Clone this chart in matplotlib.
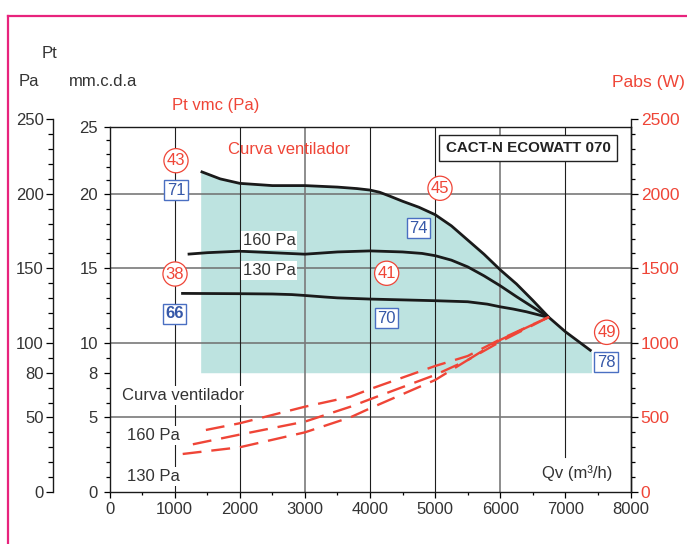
import matplotlib
matplotlib.use("Agg")
import matplotlib.pyplot as plt
from matplotlib.lines import Line2D

plt.rcParams['font.family'] = ['Liberation Sans', 'DejaVu Sans']

# ---------------- data ----------------
# fan pressure curves (x: Qv m3/h, y: mm.c.d.a)
fan_x = [1400, 1700, 2000, 2500, 3000, 3500, 3800, 4000, 4150, 4300, 4500, 4750, 5000, 5250, 5500, 5750, 6000, 6250, 6500, 6750, 7000, 7200, 7400]
fan_y = [21.5, 21.0, 20.7, 20.55, 20.55, 20.45, 20.35, 20.25, 20.1, 19.85, 19.5, 19.1, 18.6, 17.85, 16.9, 15.95, 14.9, 13.95, 12.85, 11.7, 10.75, 10.1, 9.45]

p160_x = [1200, 1500, 2000, 2500, 3000, 3500, 4000, 4500, 4800, 5000, 5250, 5500, 5750, 6000, 6250, 6500, 6750]
p160_y = [15.95, 16.05, 16.15, 16.05, 15.95, 16.1, 16.17, 16.1, 16.0, 15.85, 15.55, 15.1, 14.5, 13.83, 13.1, 12.4, 11.7]

p130_x = [1100, 2000, 2500, 2800, 3000, 3300, 3500, 4000, 5000, 5500, 5800, 6000, 6200, 6400, 6750]
p130_y = [13.32, 13.3, 13.28, 13.24, 13.18, 13.08, 13.02, 12.94, 12.83, 12.76, 12.6, 12.42, 12.27, 12.09, 11.7]

# absorbed power curves (W)
wfan_x = [1480, 2000, 3000, 3700, 4000, 5000, 5500, 6000, 6750]
wfan_y = [416, 461, 572, 639, 690, 845, 912, 1024, 1174]

w160_x = [1280, 2000, 3000, 3700, 4000, 5000, 5500, 6000, 6750]
w160_y = [320, 385, 472, 572, 622, 785, 885, 1020, 1174]

w130_x = [1124, 2000, 3000, 3700, 4000, 5000, 5500, 6000, 6750]
w130_y = [255, 300, 400, 501, 561, 751, 885, 1008, 1174]

fill_floor = 8  # mm.c.d.a

# axis ticks
x_ticks = [0, 1000, 2000, 3000, 4000, 5000, 6000, 7000, 8000]
x_labels = ['0', '1000', '2000', '3000', '4000', '5000', '6000', '7000', '8000']
mm_labels = ['0', '5', '8', '10', '15', '20', '25']
pa_ticks = [0, 50, 80, 100, 150, 200, 250]
w_ticks = [0, 500, 1000, 1500, 2000, 2500]

# annotations
circles = [('43', 1021, 22.22), ('45', 5075, 20.37), ('38', 1006, 14.62),
           ('41', 4256, 14.67), ('49', 7634, 10.71)]
boxes = [('71', 1021, 20.25, 'normal'), ('74', 4742, 17.69, 'normal'),
         ('66', 995, 11.94, 'bold'), ('70', 4256, 11.65, 'normal'),
         ('78', 7624, 8.70, 'normal')]

# ---------------- styling ----------------
RED = '#ef4537'
BLUE = '#3658a8'
BLUE_EDGE = '#4a6fc2'
TEAL = '#bde3e0'
TXT = '#333333'
PINK = '#e8237d'

W, H = 687, 544
fig = plt.figure(figsize=(W / 100, H / 100), dpi=100)


def rect(l, t, r, b):
    return [l / W, 1 - b / H, (r - l) / W, (b - t) / H]


def fpx(x, y):
    return (x / W, 1 - y / H)


# pink frame
fig.add_artist(Line2D([8 / W, 1.0], [1 - 15.7 / H, 1 - 15.7 / H], transform=fig.transFigure,
                      color=PINK, lw=1.6))
fig.add_artist(Line2D([8 / W, 8 / W], [0, 1 - 15.7 / H], transform=fig.transFigure,
                      color=PINK, lw=1.6))

# ---------------- main axes ----------------
ax = fig.add_axes(rect(109.5, 126.7, 630.5, 492))
ax.set_xlim(0, 8000)
ax.set_ylim(0, 24.5)
for s in ax.spines.values():
    s.set_color('#1a1a1a')
    s.set_linewidth(1.0)

ax.set_xticks(x_ticks)
ax.set_xticklabels(x_labels)
ax.set_xticks(list(range(500, 8000, 1000)), minor=True)
ax.tick_params(axis='x', which='major', direction='out', length=4, width=0.9,
               labelsize=12, labelcolor=TXT, pad=3)
ax.tick_params(axis='x', which='minor', direction='out', length=2, width=0.9)

mm_major = [0, 5, 8, 10, 15, 20, 24.5]
mm_minor = [1, 2, 3, 4, 6, 7, 9, 11, 12, 13, 14, 16, 17, 18, 19, 20.9, 21.8, 22.7, 23.6]
ax.set_yticks(mm_major)
ax.set_yticklabels(mm_labels)
ax.set_yticks(mm_minor, minor=True)
ax.tick_params(axis='y', which='major', direction='out', length=4.3, width=0.9,
               labelsize=12, labelcolor=TXT, pad=4)
ax.tick_params(axis='y', which='minor', direction='out', length=2.9, width=0.9)

# shaded operating area
ax.fill_between(fan_x, fill_floor, fan_y, color=TEAL, lw=0, zorder=0.5)

# grid
for yv in [5, 10, 15, 20]:
    ax.axhline(yv, color='#6e6e6e', lw=1.1, zorder=1)
for xv in [1000, 2000, 4000, 5000]:
    ax.axvline(xv, color='#1e1e1e', lw=0.8, zorder=1)
for xv in [3000, 6000]:
    ax.axvline(xv, color='#7a7a7a', lw=1.2, zorder=1)
ax.axvline(7000, ymin=2.37 / 24.5, color='#1e1e1e', lw=0.8, zorder=1)

# pressure curves
for xs, ys in [(fan_x, fan_y), (p160_x, p160_y), (p130_x, p130_y)]:
    ax.plot(xs, ys, color='#1a1a1a', lw=2.0, zorder=3, solid_capstyle='butt',
            solid_joinstyle='round')

# texts inside plot
wbox = dict(boxstyle='square,pad=0.12', fc='white', ec='none')
ax.text(2764, 22.94, 'Curva ventilador', color=RED, fontsize=12, ha='center', va='center', zorder=5)
ax.text(6426, 23.08, 'CACT-N ECOWATT 070', color='#222222', fontsize=10.9, fontweight='bold',
        ha='center', va='center', zorder=5,
        bbox=dict(boxstyle='square,pad=0.42', fc='white', ec='#222222', lw=1.0))
ax.text(2449, 16.9, '160 Pa', color=TXT, fontsize=12, ha='center', va='center', zorder=5, bbox=wbox)
ax.text(2449, 14.84, '130 Pa', color=TXT, fontsize=12, ha='center', va='center', zorder=5, bbox=wbox)
ax.text(1133, 6.5, 'Curva ventilador', color=TXT, fontsize=12, ha='center', va='center', zorder=5, bbox=wbox)
ax.text(673, 3.82, '160 Pa', color=TXT, fontsize=12, ha='center', va='center', zorder=5, bbox=wbox)
ax.text(673, 1.07, '130 Pa', color=TXT, fontsize=12, ha='center', va='center', zorder=5, bbox=wbox)
ax.text(7186, 1.25, 'Qv (m³/h)', color=TXT, fontsize=12, ha='center', va='center', zorder=5)

for t, x, y in circles:
    ax.text(x, y, t, color=RED, fontsize=12, ha='center', va='center', zorder=6,
            bbox=dict(boxstyle='circle,pad=0.17', fc='white', ec=RED, lw=0.9))
for t, x, y, fw in boxes:
    ax.text(x, y, t, color=BLUE, fontsize=12, fontweight=fw, ha='center', va='center', zorder=6,
            bbox=dict(boxstyle='square,pad=0.14', fc='white', ec=BLUE_EDGE, lw=1.0))

# ---------------- power curves (W) on an overlaid scale ----------------
axp = ax.twinx()
axp.set_ylim(0, 2450)
axp.set_yticks([])
for s in axp.spines.values():
    s.set_visible(False)
for xs, ys in [(wfan_x, wfan_y), (w160_x, w160_y), (w130_x, w130_y)]:
    axp.plot(xs, ys, color=RED, lw=1.7, dashes=(8, 4.2), zorder=3)

# ---------------- left Pa axis ----------------
axpa = fig.add_axes(rect(53.3, 119.3, 54.3, 492))
axpa.patch.set_visible(False)
for k in ['right', 'top', 'bottom']:
    axpa.spines[k].set_visible(False)
axpa.spines['left'].set_color('#1a1a1a')
axpa.spines['left'].set_linewidth(1.0)
axpa.set_xticks([])
axpa.set_ylim(0, 250)
axpa.set_yticks(pa_ticks)
axpa.set_yticklabels([str(v) for v in pa_ticks])
axpa.set_yticks([v for v in range(10, 250, 10) if v not in pa_ticks], minor=True)
axpa.tick_params(axis='y', which='major', direction='out', length=5, width=0.9,
                 labelsize=12, labelcolor=TXT, pad=1.7)
axpa.tick_params(axis='y', which='minor', direction='out', length=3.4, width=0.9)

# ---------------- right W axis ----------------
axw = fig.add_axes(rect(629.5, 119.3, 630.5, 492))
axw.patch.set_visible(False)
for k in ['left', 'top', 'bottom']:
    axw.spines[k].set_visible(False)
axw.spines['right'].set_color('#1a1a1a')
axw.spines['right'].set_linewidth(1.0)
axw.set_xticks([])
axw.set_ylim(0, 2500)
axw.yaxis.tick_right()
axw.set_yticks(w_ticks)
axw.set_yticklabels([str(v) for v in w_ticks])
axw.set_yticks([v for v in range(100, 2500, 100) if v not in w_ticks], minor=True)
axw.tick_params(axis='y', which='major', direction='out', length=5, width=0.9,
                labelsize=12.5, labelcolor=RED, pad=2.3, right=True, left=False)
axw.tick_params(axis='y', which='minor', direction='out', length=3, width=0.9, right=True, left=False)

# ---------------- outer labels ----------------
fig.text(*fpx(49.5, 53), 'Pt', color=TXT, fontsize=12, ha='center', va='center')
fig.text(*fpx(29, 82), 'Pa', color=TXT, fontsize=12, ha='center', va='center')
fig.text(*fpx(103, 82), 'mm.c.d.a', color=TXT, fontsize=12, ha='center', va='center')
fig.text(*fpx(216, 105.7), 'Pt vmc (Pa)', color=RED, fontsize=12, ha='center', va='center')
fig.text(*fpx(648, 82.7), 'Pabs (W)', color=RED, fontsize=12.6, ha='center', va='center')

fig.savefig('out.png', dpi=100)
